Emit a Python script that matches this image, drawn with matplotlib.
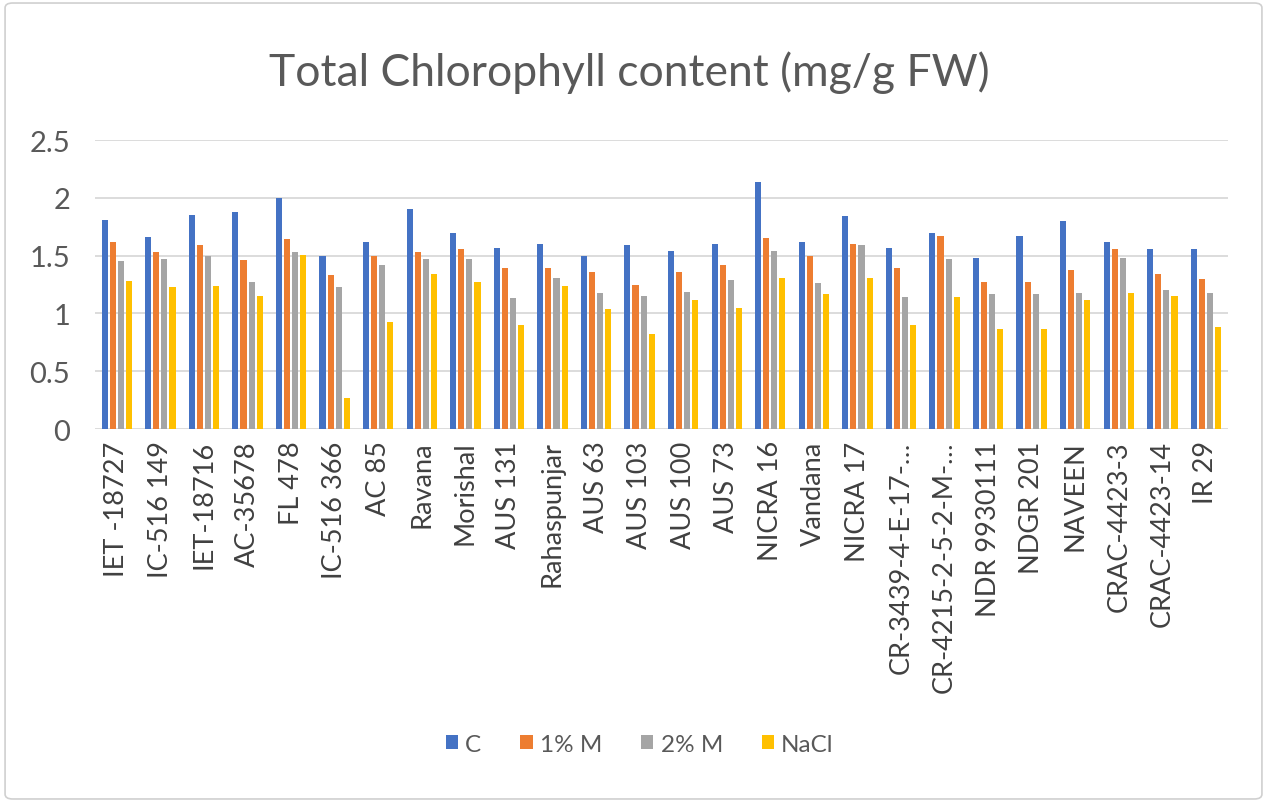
import matplotlib
matplotlib.use("Agg")
import matplotlib.pyplot as plt
import numpy as np
from matplotlib.patches import FancyBboxPatch

plt.rcParams["font.family"] = ["Lato", "DejaVu Sans"]

varieties = [
    "IET -18727", "IC-516 149", "IET-18716", "AC-35678", "FL 478", "IC-516 366",
    "AC 85", "Ravana", "Morishal", "AUS 131", "Rahaspunjar", "AUS 63", "AUS 103",
    "AUS 100", "AUS 73", "NICRA 16", "Vandana", "NICRA 17", "CR-3439-4-E-17-…",
    "CR-4215-2-5-2-M-…", "NDR 9930111", "NDGR 201", "NAVEEN", "CRAC-4423-3",
    "CRAC-4423-14", "IR 29",
]
c_vals = [1.81, 1.66, 1.85, 1.88, 2.00, 1.50, 1.62, 1.90, 1.70, 1.57, 1.60, 1.50, 1.59,
          1.54, 1.60, 2.14, 1.62, 1.84, 1.57, 1.70, 1.48, 1.67, 1.80, 1.62, 1.56, 1.56]
m1_vals = [1.62, 1.53, 1.59, 1.46, 1.64, 1.33, 1.50, 1.53, 1.56, 1.39, 1.39, 1.36, 1.25,
           1.36, 1.42, 1.65, 1.50, 1.60, 1.39, 1.67, 1.27, 1.27, 1.38, 1.56, 1.34, 1.30]
m2_vals = [1.45, 1.47, 1.50, 1.27, 1.53, 1.23, 1.42, 1.47, 1.47, 1.13, 1.31, 1.18, 1.15,
           1.19, 1.29, 1.54, 1.26, 1.59, 1.14, 1.47, 1.17, 1.17, 1.18, 1.48, 1.20, 1.18]
nacl_vals = [1.28, 1.23, 1.24, 1.15, 1.51, 0.27, 0.93, 1.34, 1.27, 0.90, 1.24, 1.04, 0.82,
             1.12, 1.05, 1.31, 1.17, 1.31, 0.90, 1.14, 0.87, 0.87, 1.12, 1.18, 1.15, 0.88]

series = [("C", c_vals, "#4472C4"), ("1% M", m1_vals, "#ED7D31"),
          ("2% M", m2_vals, "#A5A5A5"), ("NaCl", nacl_vals, "#FFC000")]

TXT = "#595959"
fig = plt.figure(figsize=(12.67, 8.04), dpi=100)
fig.patches.append(FancyBboxPatch((0.004, 0.005), 0.992, 0.99, boxstyle="round,pad=0,rounding_size=0.006",
                                  transform=fig.transFigure, fill=False, edgecolor="#D0D0D0", linewidth=1.2))
ax = fig.add_axes([0.075, 0.465, 0.894, 0.3596])

x = np.arange(len(varieties))
pitch, w = 0.186, 0.14
for i, (lab, vals, col) in enumerate(series):
    ax.bar(x + (i - 1.5) * pitch, vals, w, color=col, label=lab, zorder=3)

ax.set_xlim(-0.5, len(varieties) - 0.5)
ax.set_ylim(0, 2.5)
ax.set_yticks([0, 0.5, 1, 1.5, 2, 2.5])
ax.set_yticklabels(["0", "0.5", "1", "1.5", "2", "2.5"], fontsize=21, color=TXT)
ax.yaxis.grid(True, color="#D9D9D9", linewidth=1.3, zorder=0)
ax.set_axisbelow(True)
for s in ax.spines.values():
    s.set_visible(False)
ax.tick_params(axis="both", length=0)
ax.tick_params(axis="y", pad=18)
ax.set_xticks(x)
ax.set_xticklabels(varieties, rotation=90, fontsize=19.5, color="#404040")
ax.tick_params(axis="x", pad=8)

fig.text(0.497, 0.91, "Total Chlorophyll content (mg/g FW)", ha="center", va="center",
         fontsize=32, color=TXT)
fig.legend(loc="center", bbox_to_anchor=(0.505, 0.073), ncol=4, frameon=False,
           fontsize=17.5, labelcolor=TXT, handlelength=0.5, handleheight=0.5,
           handletextpad=0.3, columnspacing=1.6)

fig.savefig("out.png", dpi=100)
